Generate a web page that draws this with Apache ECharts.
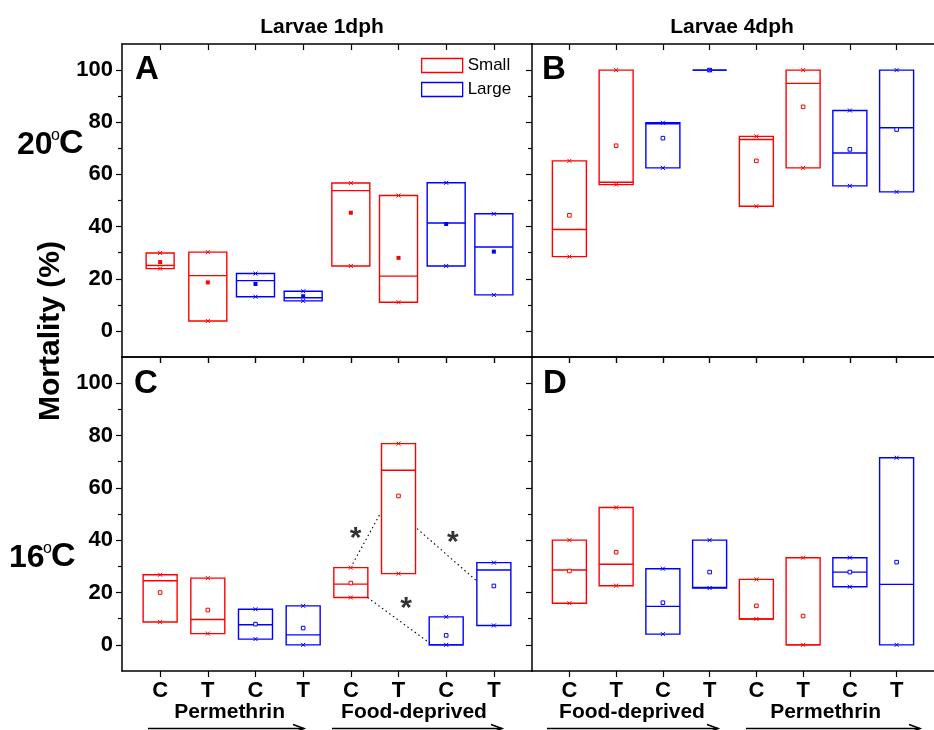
<!DOCTYPE html>
<html><head><meta charset="utf-8">
<script src="https://cdn.jsdelivr.net/npm/echarts@6/dist/echarts.min.js"></script>
<style>html,body{margin:0;padding:0;background:#fff}#chart{width:934px;height:730px}</style>
</head><body><div id="chart"></div>
<script>
// ---------------- data ----------------
const categories = ['C','T','C','T','C','T','C','T'];
const sizeOfBox = ['Small','Small','Large','Large','Small','Small','Large','Large'];
const sizeNames = ['Small','Large'];
const treatmentsLeft = ['Permethrin','Food-deprived'];
const treatmentsRight = ['Food-deprived','Permethrin'];
const columnTitles = ['Larvae 1dph','Larvae 4dph'];
const rowTemps = ['20','16'];
const panelLetters = ['A','B','C','D'];
const yTickValues = [0,20,40,60,80,100];
const yMinorTickValues = [10,30,50,70,90];

// Panel A (20°C, 1dph)
const A_min    = [23.9, 3.8, 13.1, 11.5, 24.9, 11.0, 24.9, 13.8];
const A_median = [25.1, 21.2, 19.3, 12.7, 53.8, 21.0, 41.4, 32.2];
const A_max    = [29.9, 30.2, 22.0, 15.2, 56.7, 51.9, 56.8, 44.9];
const A_mean   = [26.4, 18.6, 18.0, 13.3, 45.3, 28.0, 41.0, 30.4];
// Panel B (20°C, 4dph)
const B_min    = [28.5, 56.1, 62.5, 100, 47.8, 62.5, 55.6, 53.3];
const B_median = [38.9, 57.0, 79.4, 100, 73.4, 94.9, 68.2, 77.9];
const B_max    = [65.2, 100, 79.8, 100, 74.6, 100, 84.5, 100];
const B_mean   = [44.3, 71.0, 73.9, 100, 65.2, 85.9, 69.6, 77.2];
// Panel C (16°C, 1dph)
const C_min    = [8.7, 4.3, 2.2, 0, 18.1, 27.2, 0, 7.4];
const C_median = [24.5, 9.7, 7.7, 3.8, 23.2, 66.7, 0, 28.6];
const C_max    = [26.8, 25.5, 13.6, 14.9, 29.5, 76.9, 10.7, 31.4];
const C_mean   = [20.0, 13.3, 7.9, 6.4, 23.6, 56.9, 3.6, 22.5];
// Panel D (16°C, 4dph)
const D_min    = [15.9, 22.6, 4.1, 21.7, 9.9, 0, 22.2, 0];
const D_median = [28.6, 30.8, 14.7, 21.9, 9.9, 0, 27.8, 23.1];
const D_max    = [40.0, 52.5, 29.1, 40.0, 25.0, 33.3, 33.3, 71.5];
const D_mean   = [28.2, 35.4, 16.1, 27.8, 14.9, 11.0, 27.8, 31.6];

// significance annotations in panel C (data coordinates)
const sigStars = [[5.10, 43.4], [7.14, 41.6], [6.16, 16.3]];
const sigLinks = [
  [[5.04, 31.0], [5.63, 50.6]],
  [[6.39, 44.4], [7.64, 24.4]],
  [[5.35, 18.1], [6.66, 0.6]]
];

// ---------------- styling / layout ----------------
const FONT = 'Liberation Sans, Arial, sans-serif';
const RED = '#ff0000', BLUE = '#0000ff';
const sizeColor = {Small: RED, Large: BLUE};
const panels = [
  {min:A_min, med:A_median, max:A_max, mean:A_mean, filled:true,  widths:[28,38,38,38,38,38,38,38]},
  {min:B_min, med:B_median, max:B_max, mean:B_mean, filled:false, widths:[34,34,34,34,34,34,34,34]},
  {min:C_min, med:C_median, max:C_max, mean:C_mean, filled:false, widths:[34,34,34,34,34,34,34,34]},
  {min:D_min, med:D_median, max:D_max, mean:D_mean, filled:false, widths:[34,34,34,34,34,34,34,34]}
];
const gridBoxes = [
  {left:122, top:44,  width:410, height:313},
  {left:532, top:44,  width:410, height:313},
  {left:122, top:357, width:410, height:314},
  {left:532, top:357, width:410, height:314}
];
const xTickVals = categories.map((c,i)=>i+1);

const grids = [], xAxes = [], yAxes = [], series = [];
gridBoxes.forEach((g, gi) => {
  grids.push(Object.assign({containLabel:false}, g));
  const isBottom = gi >= 2, isLeft = gi % 2 === 0;
  const axisLine = {show:true, onZero:false, lineStyle:{color:'#000', width:1.5}};
  // bottom x axis
  xAxes.push({gridIndex:gi, type:'value', min:0.2, max:8.8, position:'bottom',
    axisLine, splitLine:{show:false},
    axisTick:{show:true, inside:false, length:6, customValues:xTickVals, lineStyle:{color:'#000', width:1.2}},
    axisLabel:{show:isBottom, customValues:xTickVals, margin:9,
      formatter:v=>categories[Math.round(v)-1] || '',
      fontFamily:FONT, fontWeight:'bold', fontSize:22, color:'#000'}});
  // top x axis
  xAxes.push({gridIndex:gi, type:'value', min:0.2, max:8.8, position:'top',
    axisLine, splitLine:{show:false},
    axisTick:{show:true, inside:true, length:6, customValues:xTickVals, lineStyle:{color:'#000', width:1.2}},
    axisLabel:{show:false}});
  // left y axis (major)
  yAxes.push({gridIndex:gi, type:'value', min:-10, max:110, position:'left',
    axisLine, splitLine:{show:false},
    axisTick:{show:true, inside:false, length:6, customValues:yTickValues, lineStyle:{color:'#000', width:1.2}},
    axisLabel:{show:isLeft, customValues:yTickValues, margin:9,
      fontFamily:FONT, fontWeight:'bold', fontSize:22, color:'#000'}});
  // minor ticks
  yAxes.push({gridIndex:gi, type:'value', min:-10, max:110, position:'left',
    axisLine:{show:false}, splitLine:{show:false},
    axisTick:{show:true, inside:false, length:4, customValues:yMinorTickValues, lineStyle:{color:'#000', width:1.2}},
    axisLabel:{show:false}});

  const p = panels[gi];
  sizeNames.forEach(sz => {
    const data = [];
    categories.forEach((c, i) => {
      if (sizeOfBox[i] === sz) data.push([i+1, p.min[i], p.med[i], p.max[i], p.mean[i], p.widths[i]]);
    });
    series.push({
      type:'custom', name:sz, xAxisIndex:gi*2, yAxisIndex:gi*2,
      itemStyle:{color:sizeColor[sz]},
      encode:{x:0, y:[1,2,3,4]},
      data,
      renderItem:(params, api) => {
        const x = api.value(0);
        const pMin = api.coord([x, api.value(1)]);
        const pMed = api.coord([x, api.value(2)]);
        const pMax = api.coord([x, api.value(3)]);
        const pMean = api.coord([x, api.value(4)]);
        const hw = api.value(5) / 2;
        const cx = pMin[0];
        const col = sizeColor[sz];
        const lw = 1.4;
        const cross = (py) => [
          {type:'line', shape:{x1:cx-2, y1:py-2, x2:cx+2, y2:py+2}, style:{stroke:col, lineWidth:1}},
          {type:'line', shape:{x1:cx-2, y1:py+2, x2:cx+2, y2:py-2}, style:{stroke:col, lineWidth:1}}
        ];
        const children = [
          {type:'rect', shape:{x:cx-hw, y:pMax[1], width:2*hw, height:pMin[1]-pMax[1]},
            style:{fill:null, stroke:col, lineWidth:lw}},
          {type:'line', shape:{x1:cx-hw, y1:pMed[1], x2:cx+hw, y2:pMed[1]}, style:{stroke:col, lineWidth:lw}},
          p.filled
            ? {type:'rect', shape:{x:cx-2, y:pMean[1]-2, width:4, height:4}, style:{fill:col}}
            : {type:'rect', shape:{x:cx-1.8, y:pMean[1]-1.8, width:3.6, height:3.6}, style:{fill:'#fff', stroke:col, lineWidth:1}}
        ].concat(cross(pMin[1]), cross(pMax[1]));
        return {type:'group', children};
      }
    });
  });
});

// significance links & stars (panel C)
series.push({
  type:'lines', coordinateSystem:'cartesian2d', xAxisIndex:4, yAxisIndex:4,
  silent:true, symbol:'none',
  lineStyle:{color:'#000', width:1.1, type:[1.5,3], opacity:1},
  data: sigLinks.map(c => ({coords:c}))
});
series.push({
  type:'scatter', xAxisIndex:4, yAxisIndex:4, symbolSize:0, silent:true,
  data: sigStars,
  label:{show:true, position:'inside', formatter:'*', offset:[0,7],
    fontFamily:FONT, fontWeight:'bold', fontSize:30, color:'#000'}
});

// ---------------- graphic texts ----------------
const graphics = [];
const txt = (o) => graphics.push({type:'text', silent:true, ...o});
columnTitles.forEach((t, i) => txt({x: i===0 ? 322 : 732, y: 27,
  style:{text:t, font:`bold 21px ${FONT}`, fill:'#000', textAlign:'center', textVerticalAlign:'middle'}}));
const letterPos = [[135,53],[542,53],[134,367],[543,367]];
panelLetters.forEach((l, i) => txt({x:letterPos[i][0], y:letterPos[i][1],
  style:{text:l, font:`bold 33px ${FONT}`, fill:'#000', textAlign:'left', textVerticalAlign:'top'}}));
// temperatures with superscript o
const tempPos = [[17,161],[9,574]];
rowTemps.forEach((t, i) => {
  const [x, y] = tempPos[i];
  txt({x, y, style:{text:t, font:`bold 32px ${FONT}`, fill:'#000', textAlign:'left', textVerticalAlign:'bottom'}});
  txt({x:x+34, y:y-17, style:{text:'o', font:`16px ${FONT}`, fill:'#000', textAlign:'left', textVerticalAlign:'bottom'}});
  txt({x:x+42, y, style:{text:'C', font:`bold 34px ${FONT}`, fill:'#000', textAlign:'left', textVerticalAlign:'bottom'}});
});
txt({x:51, y:331, rotation:Math.PI/2,
  style:{text:'Mortality (%)', font:`bold 30px ${FONT}`, fill:'#000', textAlign:'center', textVerticalAlign:'middle'}});
// treatment group labels and arrows
const groupLabelX = [229.6, 414, 632, 825.6];
const groupNames = treatmentsLeft.concat(treatmentsRight);
groupNames.forEach((n, i) => txt({x:groupLabelX[i], y:712,
  style:{text:n, font:`bold 21px ${FONT}`, fill:'#000', textAlign:'center', textVerticalAlign:'middle'}}));
const arrowSpans = [[148,304],[332,502],[547,718],[746,920]];
arrowSpans.forEach(([x1, x2]) => {
  const y = 728.5;
  graphics.push({type:'line', silent:true, shape:{x1, y1:y, x2, y2:y}, style:{stroke:'#000', lineWidth:1.5}});
  graphics.push({type:'polyline', silent:true, shape:{points:[[x2-11,y-4],[x2,y],[x2-11,y+4]]}, style:{stroke:'#000', lineWidth:1.5, fill:null}});
});

const option = {
  animation:false,
  backgroundColor:'#fff',
  grid:grids, xAxis:xAxes, yAxis:yAxes, series,
  legend:{left:421, top:57, orient:'vertical', itemWidth:41, itemHeight:14, itemGap:7,
    icon:'rect', selectedMode:false, padding:0,
    textStyle:{fontFamily:FONT, fontSize:17, color:'#000'},
    data:[
      {name:'Small', itemStyle:{color:'#fff', borderColor:RED, borderWidth:1.3}},
      {name:'Large', itemStyle:{color:'#fff', borderColor:BLUE, borderWidth:1.3}}
    ]},
  graphic:graphics
};
const chart = echarts.init(document.getElementById('chart'), null, {renderer:'canvas'});
chart.setOption(option);
</script></body></html>
